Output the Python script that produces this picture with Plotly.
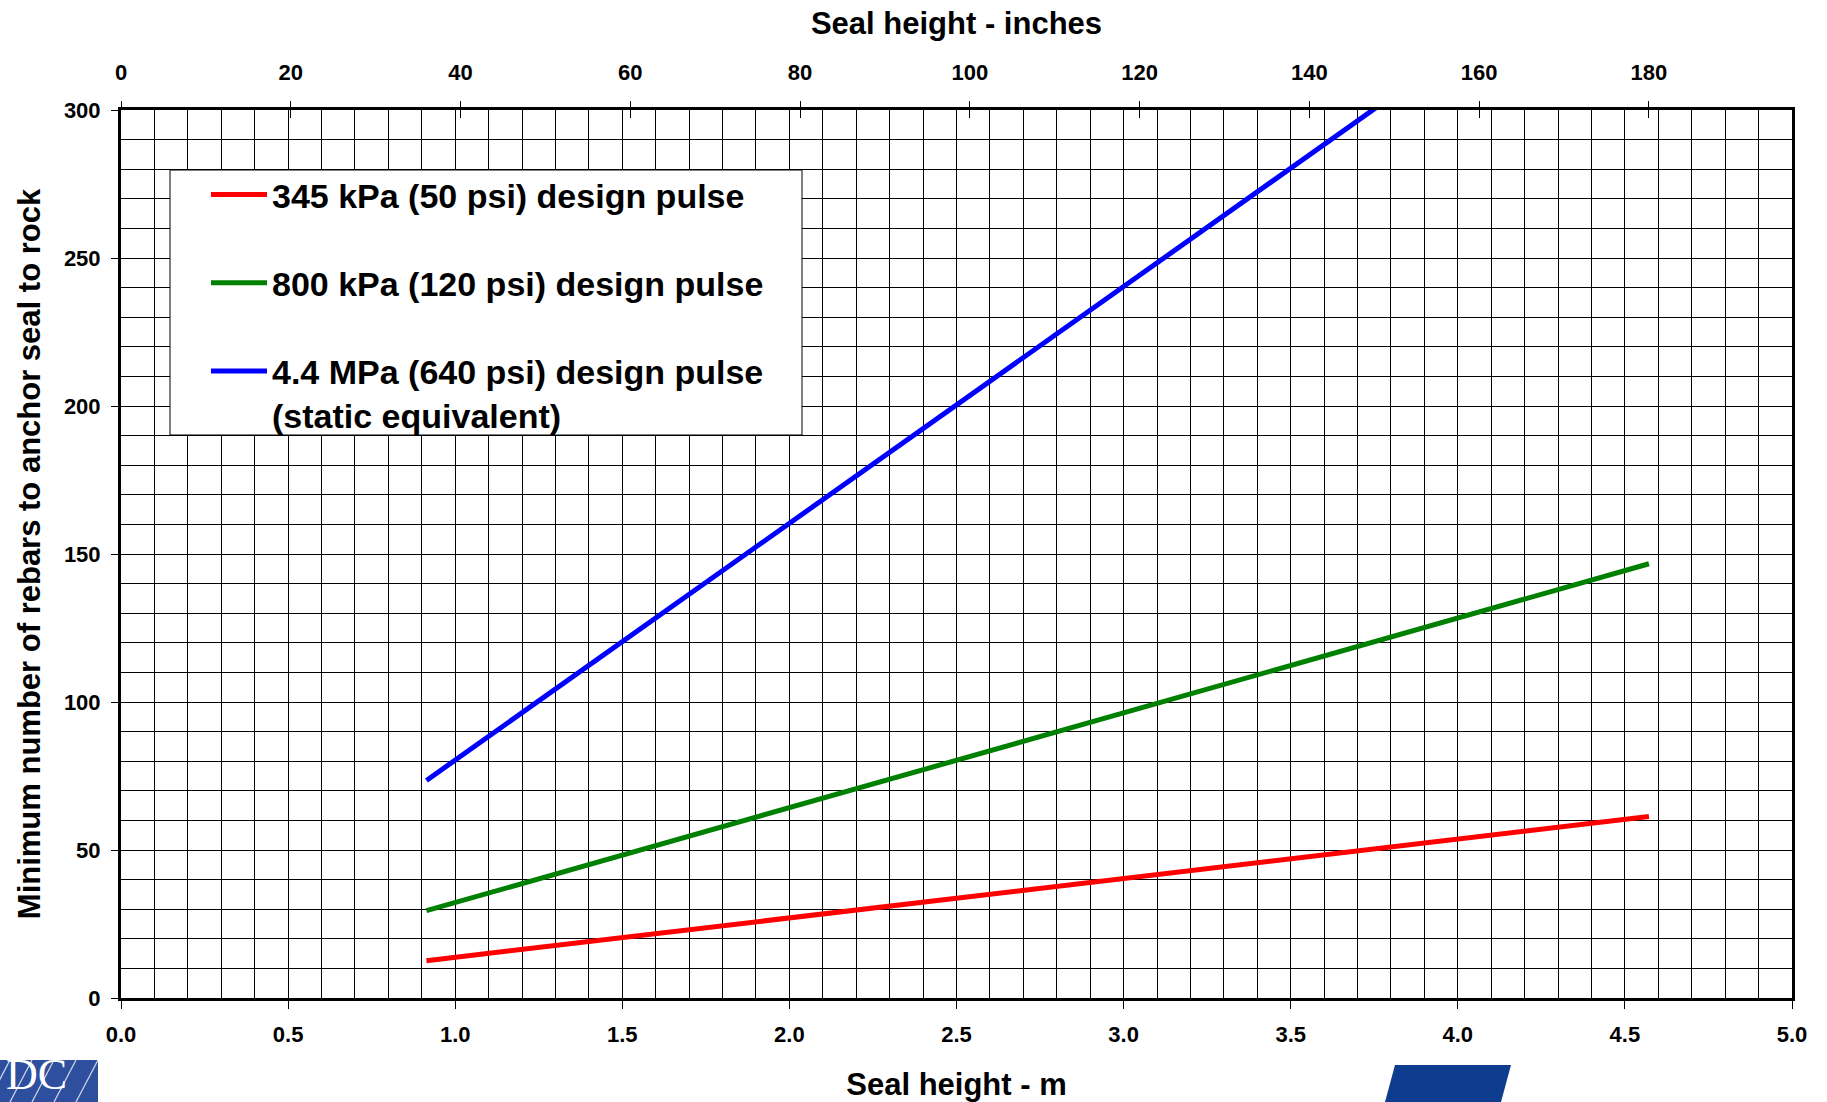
import plotly.graph_objects as go

# ---- data ----
seal_height_m = [0.914, 1.5, 2.0, 2.5, 3.0, 3.5, 4.0, 4.572]
rebars_345kpa = [12.6, 20.4, 27.1, 33.7, 40.4, 47.0, 53.7, 61.3]
rebars_800kpa = [29.5, 48.3, 64.3, 80.3, 96.3, 112.4, 128.4, 146.7]
rebars_4400kpa = [73.5, 120.4, 160.4, 200.4, 240.4, 280.4, 320.4, 366.1]

series_names = [
    "345 kPa (50 psi) design pulse",
    "800 kPa (120 psi) design pulse",
    "4.4 MPa (640 psi) design pulse<br>(static equivalent)",
]
series_colors = ["#FF0000", "#008000", "#0000FF"]

x_m_ticks = [0.0, 0.5, 1.0, 1.5, 2.0, 2.5, 3.0, 3.5, 4.0, 4.5, 5.0]
x_in_ticks = [0, 20, 40, 60, 80, 100, 120, 140, 160, 180]
y_ticks = [0, 50, 100, 150, 200, 250, 300]

M_PER_IN = 0.0254
x_range_m = [0, 5]
x_range_in = [0, 5 / M_PER_IN]

W, H = 1827, 1102
ML, MR, MT, MB = 121, 35, 110, 104
PW, PH = W - ML - MR, H - MT - MB

FONT = "Liberation Sans, Arial, sans-serif"


def px(xp):
    return (xp - ML) / PW


def py(yp):
    return (H - MB - yp) / PH


fig = go.Figure()

for name, col, ys in zip(series_names, series_colors,
                         [rebars_345kpa, rebars_800kpa, rebars_4400kpa]):
    fig.add_trace(go.Scatter(
        x=seal_height_m, y=ys, mode="lines", name=name,
        line=dict(color=col, width=5), legendgroup=name,
    ))

# invisible traces to anchor the inch axes
seal_height_in = [v / M_PER_IN for v in seal_height_m]
for ax in ["x2", "x3"]:
    fig.add_trace(go.Scatter(
        x=seal_height_in, y=rebars_345kpa, xaxis=ax, yaxis="y",
        mode="lines", line=dict(width=0, color="rgba(0,0,0,0)"),
        showlegend=False, hoverinfo="skip",
    ))

tick_font = dict(family=FONT, size=22, color="black", weight="bold")
title_font = dict(family=FONT, size=31, color="black", weight="bold")

fig.update_layout(
    width=W, height=H,
    margin=dict(l=ML, r=MR, t=MT, b=MB, autoexpand=False),
    paper_bgcolor="white", plot_bgcolor="white",
    showlegend=True,
    legend=dict(
        x=px(206), y=py(166),
        xanchor="left", yanchor="top",
        bgcolor="rgba(0,0,0,0)", borderwidth=0,
        font=dict(family=FONT, size=34, color="black", weight="bold"),
        tracegroupgap=41, traceorder="grouped", valign="top",
        itemwidth=56,
    ),
    xaxis=dict(
        range=x_range_m, tickvals=x_m_ticks,
        ticktext=[f"{v:.1f}" for v in x_m_ticks],
        showgrid=True, gridcolor="black", gridwidth=1,
        minor=dict(dtick=0.1, tick0=0, showgrid=True, gridcolor="black", gridwidth=1),
        showline=True, linecolor="black", linewidth=3, mirror=True,
        ticks="outside", ticklen=8, tickcolor="black", tickwidth=1,
        ticklabelstandoff=7, automargin=False,
        tickfont=tick_font, zeroline=False,
        title=dict(text="Seal height - m", font=title_font, standoff=32),
    ),
    xaxis2=dict(
        range=x_range_in, tickvals=x_in_ticks,
        ticktext=[str(v) for v in x_in_ticks],
        overlaying="x", side="top", anchor="y",
        showgrid=False, zeroline=False, showline=False,
        ticks="outside", ticklen=8, tickcolor="black", tickwidth=1,
        ticklabelstandoff=12, automargin=False,
        tickfont=tick_font,
        title=dict(text="Seal height - inches", font=title_font, standoff=16),
    ),
    xaxis3=dict(
        range=x_range_in, tickvals=x_in_ticks,
        overlaying="x", side="top", anchor="y",
        showgrid=False, zeroline=False, showline=False,
        ticks="inside", ticklen=8, tickcolor="black", tickwidth=1,
        showticklabels=False, automargin=False,
    ),
    yaxis=dict(
        range=[0, 300], tickvals=y_ticks,
        showgrid=True, gridcolor="black", gridwidth=1,
        minor=dict(dtick=10, tick0=0, showgrid=True, gridcolor="black", gridwidth=1),
        showline=True, linecolor="black", linewidth=3, mirror=True,
        ticks="outside", ticklen=7, tickcolor="black", tickwidth=1,
        ticklabelstandoff=6, automargin=False,
        tickfont=tick_font, zeroline=False,
        title=dict(text="Minimum number of rebars to anchor seal to rock",
                   font=title_font, standoff=15),
    ),
)

shapes = []
# legend frame (legend itself is drawn on top of it)
shapes.append(dict(type="rect", xref="paper", yref="paper",
                   x0=px(170), x1=px(802), y0=py(435), y1=py(170),
                   fillcolor="white", line=dict(color="black", width=1),
                   layer="above"))

# ---- decorative logos at the bottom ----
shapes.append(dict(type="rect", xref="paper", yref="paper",
                   x0=px(0), x1=px(98), y0=py(1102), y1=py(1060),
                   fillcolor="#2D4F9E", line=dict(width=0), layer="above"))
for x0 in [10, 32, 54, 76, 98]:
    shapes.append(dict(type="line", xref="paper", yref="paper",
                       x0=px(x0 - 22), y0=py(1102), x1=px(x0), y1=py(1060),
                       line=dict(color="rgba(255,255,255,0.8)", width=1.2),
                       layer="above"))
shapes.append(dict(type="path", xref="paper", yref="paper",
                   path=f"M{px(1395)},{py(1065)} L{px(1511)},{py(1065)} "
                        f"L{px(1501)},{py(1102)} L{px(1385)},{py(1102)} Z",
                   fillcolor="#0E3C8F", line=dict(width=0), layer="above"))
fig.update_layout(shapes=shapes)

fig.add_annotation(
    xref="paper", yref="paper", x=px(4), y=py(1101), xanchor="left", yanchor="bottom",
    text="DC", showarrow=False,
    font=dict(family="Liberation Serif, DejaVu Serif, serif", size=44, color="white"),
)

fig.write_html("out.html")
